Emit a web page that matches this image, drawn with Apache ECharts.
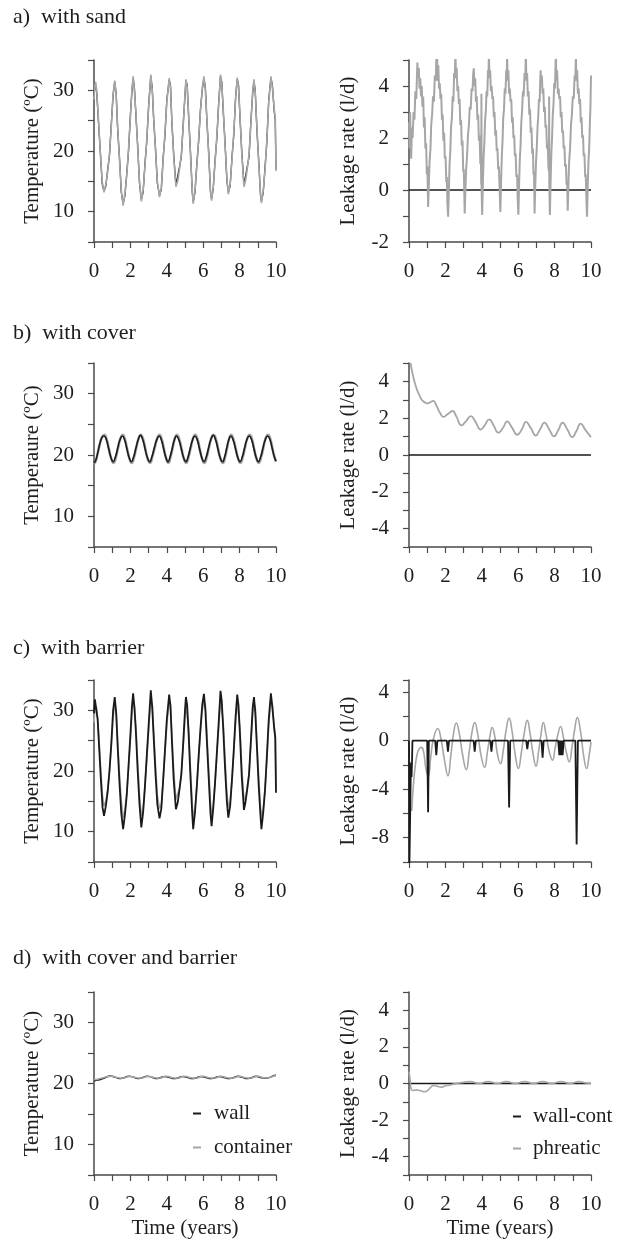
<!DOCTYPE html>
<html><head><meta charset="utf-8">
<script src="https://cdn.jsdelivr.net/npm/echarts@6/dist/echarts.min.js"></script>
<style>html,body{margin:0;padding:0;background:#fff}#c{width:621px;height:1243px}</style>
</head><body><div id="c"></div>
<script>
// ---------- text / ticks ----------
const panelTitles = ['a)  with sand', 'b)  with cover', 'c)  with barrier', 'd)  with cover and barrier'];
const tempAxisNames = ['Temperature (ºC)', 'Temperaure (ºC)', 'Temperature (ºC)', 'Temperature (ºC)'];
const leakAxisName = 'Leakage rate (l/d)';
const timeAxisName = 'Time (years)';
const xTickLabels = [0, 2, 4, 6, 8, 10];
const tempTickLabels = [10, 20, 30];
const leakTickLabelsA = [-2, 0, 2, 4];
const leakTickLabelsB = [-4, -2, 0, 2, 4];
const leakTickLabelsC = [-8, -4, 0, 4];
const leakTickLabelsD = [-4, -2, 0, 2, 4];
const legendLeft = ['wall', 'container'];
const legendRight = ['wall-cont', 'phreatic'];

// ---------- a) with sand ----------
const aTempWall = [[0.00,29.0],[0.05,31.3],[0.09,31.2],[0.15,29.6],[0.25,24.6],[0.35,19.8],[0.45,14.6],[0.55,13.4],[0.65,14.2],[0.75,16.9],[0.85,19.2],[0.95,24.4],[1.05,29.2],[1.14,31.4],[1.22,29.4],[1.30,23.6],[1.40,18.9],[1.50,13.2],[1.60,11.3],[1.70,12.7],[1.80,16.3],[1.90,20.1],[2.00,25.9],[2.08,29.7],[2.15,32.0],[2.22,30.4],[2.30,26.1],[2.40,20.9],[2.50,14.7],[2.60,12.0],[2.70,13.2],[2.80,17.9],[2.90,21.6],[3.00,27.4],[3.12,32.3],[3.20,30.4],[3.28,25.1],[3.38,20.4],[3.48,14.7],[3.60,12.7],[3.70,13.7],[3.80,18.9],[3.90,22.6],[4.00,28.4],[4.13,31.7],[4.20,30.9],[4.28,24.6],[4.38,19.4],[4.50,14.4],[4.60,14.7],[4.70,17.4],[4.80,19.1],[4.90,24.4],[5.00,29.1],[5.05,31.5],[5.12,30.9],[5.20,25.6],[5.30,19.9],[5.40,13.2],[5.45,11.6],[5.55,13.2],[5.65,17.9],[5.75,21.6],[5.85,26.9],[5.95,30.1],[6.04,32.0],[6.12,30.4],[6.20,25.1],[6.30,19.9],[6.40,13.2],[6.46,12.1],[6.55,13.7],[6.65,18.4],[6.75,22.1],[6.85,27.9],[6.95,32.3],[7.02,31.4],[7.10,26.6],[7.20,21.4],[7.30,15.2],[7.38,13.2],[7.48,14.2],[7.58,18.9],[7.68,22.6],[7.78,28.9],[7.87,31.8],[7.94,30.9],[8.02,25.6],[8.12,19.9],[8.24,14.4],[8.32,14.7],[8.42,17.4],[8.52,19.1],[8.62,24.9],[8.72,29.6],[8.79,31.5],[8.86,29.9],[8.95,23.6],[9.05,18.4],[9.15,12.7],[9.20,11.7],[9.30,13.2],[9.40,17.4],[9.50,21.6],[9.60,28.4],[9.72,32.0],[9.80,30.9],[9.90,26.6],[9.96,25.1],[10.00,17.0]];
const aTempCont = [[0.00,28.5],[0.05,31.0],[0.09,31.4],[0.15,30.0],[0.25,25.0],[0.35,19.5],[0.45,15.0],[0.55,13.2],[0.65,14.5],[0.75,16.5],[0.85,19.5],[0.95,24.0],[1.05,29.5],[1.14,31.6],[1.22,29.0],[1.30,24.0],[1.40,18.5],[1.50,13.5],[1.60,11.0],[1.70,13.0],[1.80,16.0],[1.90,20.5],[2.00,25.5],[2.08,30.0],[2.15,32.3],[2.22,30.0],[2.30,26.5],[2.40,20.5],[2.50,15.0],[2.60,11.7],[2.70,13.5],[2.80,17.5],[2.90,22.0],[3.00,27.0],[3.12,32.6],[3.20,30.0],[3.28,25.5],[3.38,20.0],[3.48,15.0],[3.60,12.4],[3.70,14.0],[3.80,18.5],[3.90,23.0],[4.00,28.0],[4.13,32.0],[4.20,30.5],[4.28,25.0],[4.38,19.0],[4.50,14.1],[4.60,15.0],[4.70,17.0],[4.80,19.5],[4.90,24.0],[5.00,29.5],[5.05,31.8],[5.12,30.5],[5.20,26.0],[5.30,19.5],[5.40,13.5],[5.45,11.3],[5.55,13.5],[5.65,17.5],[5.75,22.0],[5.85,26.5],[5.95,30.5],[6.04,32.3],[6.12,30.0],[6.20,25.5],[6.30,19.5],[6.40,13.5],[6.46,11.8],[6.55,14.0],[6.65,18.0],[6.75,22.5],[6.85,27.5],[6.95,32.6],[7.02,31.0],[7.10,27.0],[7.20,21.0],[7.30,15.5],[7.38,12.9],[7.48,14.5],[7.58,18.5],[7.68,23.0],[7.78,28.5],[7.87,32.1],[7.94,30.5],[8.02,26.0],[8.12,19.5],[8.24,14.1],[8.32,15.0],[8.42,17.0],[8.52,19.5],[8.62,24.5],[8.72,30.0],[8.79,31.8],[8.86,29.5],[8.95,24.0],[9.05,18.0],[9.15,13.0],[9.20,11.4],[9.30,13.5],[9.40,17.0],[9.50,22.0],[9.60,28.0],[9.72,32.3],[9.80,30.5],[9.90,27.0],[9.96,25.5],[10.00,16.7]];
const aLeakWall = [[0,0],[10,0]];
const aLeakPhreatic = [[0.00,2.6],[0.03,1.6],[0.06,3.0],[0.09,1.9],[0.12,1.2],[0.16,2.4],[0.20,2.0],[0.25,3.0],[0.30,2.7],[0.35,3.8],[0.40,3.5],[0.46,4.9],[0.50,4.3],[0.54,4.7],[0.58,3.9],[0.62,4.3],[0.66,3.6],[0.70,4.0],[0.74,3.2],[0.78,3.6],[0.82,2.4],[0.86,2.8],[0.90,1.6],[0.94,1.8],[0.98,0.6],[1.01,0.9],[1.05,-0.65],
[1.09,0.2],[1.13,1.1],[1.18,1.6],[1.22,2.5],[1.27,2.9],[1.32,3.6],[1.37,3.4],[1.42,4.4],[1.47,4.2],[1.50,5.0],[1.54,5.3],
[1.57,4.2],[1.61,4.8],[1.65,3.9],[1.69,4.1],[1.73,3.5],[1.77,3.7],[1.81,2.7],[1.85,2.9],[1.89,1.9],[1.93,2.2],[1.97,1.2],[2.01,1.3],[2.05,0.3],[2.08,0.5],[2.11,-0.5],[2.15,-1.03],
[2.19,0.0],[2.23,1.0],[2.27,1.5],[2.31,2.4],[2.36,2.8],[2.40,3.6],[2.44,3.4],[2.48,4.5],[2.52,4.3],[2.55,5.35],
[2.58,4.3],[2.62,4.7],[2.66,3.8],[2.70,4.0],[2.74,3.3],[2.78,3.5],[2.82,2.5],[2.86,2.7],[2.90,1.7],[2.94,1.9],[2.98,0.7],[3.01,0.8],[3.04,-0.2],[3.06,-0.9],
[3.10,0.0],[3.14,0.8],[3.19,1.3],[3.24,2.1],[3.29,2.5],[3.34,3.2],[3.39,3.1],[3.44,3.9],[3.49,3.8],[3.53,4.5],[3.56,4.68],
[3.60,4.0],[3.64,4.3],[3.68,3.4],[3.72,3.6],[3.76,2.7],[3.80,2.9],[3.84,1.9],[3.88,2.1],[3.92,1.0],[3.95,1.2],[3.97,0.2],[3.98,3.7],[3.99,0.0],[4.02,-0.96],
[4.06,0.3],[4.10,1.3],[4.14,1.8],[4.18,2.7],[4.22,3.0],[4.26,3.8],[4.30,3.6],[4.34,4.6],[4.37,4.4],[4.39,5.35],
[4.42,4.3],[4.46,4.6],[4.50,3.8],[4.54,4.0],[4.58,3.5],[4.62,3.6],[4.66,2.8],[4.70,3.0],[4.74,2.1],[4.78,2.3],[4.82,1.5],[4.86,1.6],[4.90,0.8],[4.94,0.9],[4.98,0.0],[5.02,-0.85],
[5.06,0.3],[5.10,1.3],[5.14,1.9],[5.18,2.8],[5.22,3.1],[5.26,3.9],[5.30,3.7],[5.34,4.6],[5.37,4.4],[5.39,5.25],
[5.42,4.2],[5.46,4.6],[5.50,3.7],[5.54,3.9],[5.58,3.4],[5.62,3.5],[5.66,2.6],[5.70,2.8],[5.74,2.0],[5.78,2.1],[5.82,1.3],[5.86,1.4],[5.90,0.5],[5.94,0.6],[5.97,-0.3],[6.01,-0.95],
[6.05,0.2],[6.09,1.2],[6.13,1.7],[6.17,2.6],[6.21,3.0],[6.26,3.8],[6.30,3.6],[6.35,4.5],[6.39,4.3],[6.42,5.3],
[6.45,4.2],[6.49,4.5],[6.53,3.6],[6.57,3.8],[6.61,2.9],[6.65,3.1],[6.69,2.2],[6.73,2.4],[6.77,1.4],[6.81,1.6],[6.84,0.6],[6.87,0.7],[6.90,-0.9],
[6.94,0.2],[6.98,1.1],[7.02,1.6],[7.06,2.4],[7.10,2.8],[7.14,3.5],[7.18,3.4],[7.21,4.2],[7.23,4.6],
[7.26,4.2],[7.30,4.4],[7.34,3.7],[7.38,3.9],[7.42,3.0],[7.46,3.2],[7.50,2.4],[7.54,2.5],[7.58,1.6],[7.62,1.8],[7.66,0.9],[7.69,0.7],[7.70,3.6],[7.71,0.2],[7.74,-0.96],
[7.78,0.3],[7.82,1.4],[7.86,2.0],[7.90,2.9],[7.94,3.3],[7.98,4.1],[8.02,3.9],[8.05,4.8],[8.07,5.35],
[8.10,4.2],[8.14,4.6],[8.18,3.7],[8.22,3.9],[8.26,3.5],[8.30,3.6],[8.34,2.8],[8.38,3.0],[8.42,2.2],[8.46,2.3],[8.50,1.6],[8.54,1.7],[8.58,0.9],[8.62,1.0],[8.66,0.2],[8.69,0.3],[8.72,-0.8],
[8.76,0.2],[8.80,1.1],[8.85,1.6],[8.90,2.5],[8.95,2.9],[9.00,3.6],[9.05,3.5],[9.10,4.4],[9.14,4.3],[9.17,5.15],
[9.20,4.2],[9.24,4.6],[9.28,3.7],[9.32,3.9],[9.36,3.3],[9.40,3.5],[9.44,2.6],[9.48,2.8],[9.52,2.0],[9.56,2.1],[9.60,1.3],[9.64,1.4],[9.68,0.5],[9.71,0.6],[9.75,-0.4],[9.78,-1.03],
[9.82,0.1],[9.86,1.1],[9.90,1.6],[9.94,2.6],[9.97,3.2],[10.00,4.4]];

// ---------- b) with cover ----------
const bTempWall = [[0.00,18.7],[0.10,19.2],[0.20,20.3],[0.31,21.7],[0.43,22.8],[0.55,23.1],[0.68,22.5],[0.80,21.1],[0.93,19.6],
[1.05,18.9],[1.18,19.7],[1.30,21.1],[1.43,22.5],[1.56,23.1],[1.68,22.5],[1.80,21.1],[1.93,19.6],
[2.05,18.9],[2.18,19.7],[2.30,21.1],[2.43,22.5],[2.55,23.2],[2.68,22.5],[2.80,21.1],[2.93,19.6],
[3.06,18.9],[3.18,19.7],[3.31,21.1],[3.45,22.5],[3.58,23.1],[3.70,22.5],[3.82,21.1],[3.95,19.6],
[4.07,18.9],[4.18,19.7],[4.30,21.1],[4.42,22.5],[4.53,23.1],[4.66,22.5],[4.79,21.1],[4.92,19.6],
[5.05,18.9],[5.17,19.7],[5.29,21.1],[5.42,22.5],[5.54,23.1],[5.67,22.5],[5.79,21.1],[5.92,19.6],
[6.04,18.9],[6.17,19.7],[6.29,21.1],[6.42,22.5],[6.55,23.2],[6.68,22.5],[6.80,21.1],[6.93,19.6],
[7.06,18.9],[7.18,19.7],[7.29,21.1],[7.41,22.5],[7.52,23.1],[7.64,22.5],[7.77,21.1],[7.90,19.6],
[8.02,18.9],[8.15,19.7],[8.27,21.1],[8.40,22.5],[8.53,23.1],[8.66,22.5],[8.78,21.1],[8.91,19.6],
[9.03,18.9],[9.16,19.7],[9.28,21.1],[9.41,22.5],[9.54,23.1],[9.67,22.5],[9.79,21.1],[9.90,19.8],[10.00,19.0]];
const bTempCont = [[0.00,18.5],[0.10,19.0],[0.20,20.2],[0.32,21.8],[0.45,23.0],[0.57,23.3],[0.70,22.5],[0.82,21.0],[0.95,19.4],
[1.07,18.7],[1.20,19.6],[1.32,21.1],[1.45,22.7],[1.58,23.3],[1.70,22.6],[1.82,21.0],[1.95,19.4],
[2.07,18.7],[2.20,19.6],[2.32,21.1],[2.45,22.7],[2.57,23.3],[2.70,22.6],[2.82,21.0],[2.95,19.4],
[3.08,18.7],[3.20,19.6],[3.33,21.1],[3.47,22.7],[3.60,23.3],[3.72,22.6],[3.84,21.0],[3.97,19.4],
[4.09,18.7],[4.20,19.6],[4.32,21.1],[4.44,22.7],[4.55,23.3],[4.68,22.6],[4.81,21.0],[4.94,19.4],
[5.07,18.7],[5.19,19.6],[5.31,21.1],[5.44,22.7],[5.56,23.3],[5.69,22.6],[5.81,21.0],[5.94,19.4],
[6.06,18.7],[6.19,19.6],[6.31,21.1],[6.44,22.7],[6.57,23.3],[6.70,22.6],[6.82,21.0],[6.95,19.4],
[7.08,18.7],[7.20,19.6],[7.31,21.1],[7.43,22.7],[7.54,23.3],[7.66,22.6],[7.79,21.0],[7.92,19.4],
[8.04,18.7],[8.17,19.6],[8.29,21.1],[8.42,22.7],[8.55,23.3],[8.68,22.6],[8.80,21.0],[8.93,19.4],
[9.05,18.7],[9.18,19.6],[9.30,21.1],[9.43,22.7],[9.56,23.3],[9.69,22.6],[9.81,21.0],[9.92,19.6],[10.00,18.9]];
const bLeakWall = [[0,0],[10,0]];
const bLeakPhreatic = [[0.08,5.0],[0.20,4.4],[0.30,4.0],[0.42,3.6],[0.55,3.3],[0.70,3.0],[0.88,2.85],[1.00,2.8],[1.12,2.85],[1.34,2.94],[1.50,2.7],[1.70,2.3],[1.89,2.07],[2.10,2.2],[2.40,2.39],[2.60,2.1],[2.89,1.61],[3.10,1.8],[3.40,2.11],[3.65,1.8],[3.94,1.38],[4.15,1.6],[4.41,1.94],[4.65,1.6],[4.91,1.21],[5.15,1.45],[5.40,1.83],[5.65,1.5],[5.95,1.10],[6.20,1.4],[6.43,1.80],[6.70,1.45],[6.96,1.06],[7.20,1.38],[7.44,1.76],[7.70,1.4],[7.97,1.01],[8.20,1.35],[8.44,1.76],[8.70,1.38],[8.97,0.97],[9.20,1.3],[9.43,1.71],[9.70,1.35],[10.00,0.97]];

// ---------- c) with barrier ----------
const cTempWall = [[0.00,29.5],[0.05,31.8],[0.13,31.6],[0.20,28.5],[0.28,24.0],[0.38,18.5],[0.47,14.0],[0.55,12.6],[0.65,14.2],[0.75,16.5],[0.85,20.0],[0.95,24.5],[1.05,30.0],[1.14,32.2],[1.22,29.5],[1.30,24.0],[1.40,18.0],[1.50,13.0],[1.60,10.4],[1.70,12.8],[1.80,16.0],[1.90,21.0],[2.00,26.0],[2.08,30.5],[2.15,32.8],[2.22,30.5],[2.30,26.5],[2.40,20.0],[2.50,14.5],[2.60,10.7],[2.70,13.2],[2.80,17.5],[2.90,22.5],[3.00,27.5],[3.12,33.3],[3.20,30.5],[3.28,25.5],[3.38,19.5],[3.48,14.5],[3.60,12.2],[3.70,13.8],[3.80,18.5],[3.90,23.5],[4.00,28.5],[4.13,32.6],[4.20,30.8],[4.28,25.0],[4.38,18.5],[4.50,13.7],[4.60,14.8],[4.70,17.0],[4.80,19.5],[4.90,24.5],[5.00,30.0],[5.05,32.2],[5.12,30.8],[5.20,26.0],[5.30,19.0],[5.40,12.8],[5.45,10.4],[5.55,13.2],[5.65,17.5],[5.75,22.5],[5.85,27.0],[5.95,31.0],[6.04,32.7],[6.12,30.0],[6.20,25.0],[6.30,19.0],[6.40,13.0],[6.46,10.9],[6.55,13.8],[6.65,18.0],[6.75,23.0],[6.85,28.0],[6.95,33.2],[7.02,31.5],[7.10,27.0],[7.20,20.5],[7.30,15.0],[7.38,12.3],[7.48,14.2],[7.58,18.5],[7.68,23.5],[7.78,29.0],[7.87,32.6],[7.94,30.8],[8.02,26.0],[8.12,19.0],[8.24,13.6],[8.32,14.8],[8.42,17.0],[8.52,19.5],[8.62,25.0],[8.72,30.5],[8.79,32.2],[8.86,29.8],[8.95,24.0],[9.05,17.5],[9.15,12.5],[9.20,10.4],[9.30,13.2],[9.40,17.0],[9.50,22.5],[9.60,28.5],[9.72,32.8],[9.80,30.5],[9.90,27.0],[9.96,25.5],[10.00,16.4]];
const cTempCont = [[0.00,28.0],[0.05,30.2],[0.13,30.6],[0.20,28.8],[0.28,25.0],[0.38,19.8],[0.47,15.8],[0.55,14.2],[0.65,15.0],[0.75,17.0],[0.85,20.0],[0.95,24.0],[1.05,28.8],[1.14,31.0],[1.22,29.8],[1.30,25.0],[1.40,19.5],[1.50,15.0],[1.60,12.3],[1.70,13.5],[1.80,16.5],[1.90,20.5],[2.00,25.0],[2.08,29.0],[2.15,31.5],[2.22,30.8],[2.30,27.5],[2.40,21.5],[2.50,16.0],[2.60,12.6],[2.70,13.8],[2.80,17.5],[2.90,22.0],[3.00,26.5],[3.12,31.8],[3.20,31.0],[3.28,26.5],[3.38,21.0],[3.48,16.0],[3.60,13.8],[3.70,14.5],[3.80,18.5],[3.90,23.0],[4.00,27.5],[4.13,31.4],[4.20,31.0],[4.28,26.0],[4.38,20.0],[4.50,15.3],[4.60,15.5],[4.70,17.2],[4.80,19.5],[4.90,24.0],[5.00,28.8],[5.05,31.0],[5.12,31.0],[5.20,27.0],[5.30,20.5],[5.40,14.5],[5.45,12.4],[5.55,13.8],[5.65,17.5],[5.75,22.0],[5.85,26.5],[5.95,30.0],[6.04,31.6],[6.12,30.8],[6.20,26.5],[6.30,20.5],[6.40,14.8],[6.46,12.8],[6.55,14.2],[6.65,18.0],[6.75,22.5],[6.85,27.0],[6.95,31.8],[7.02,31.6],[7.10,28.0],[7.20,22.0],[7.30,16.5],[7.38,14.0],[7.48,15.0],[7.58,18.5],[7.68,23.0],[7.78,28.0],[7.87,31.4],[7.94,31.2],[8.02,27.0],[8.12,20.5],[8.24,15.2],[8.32,15.6],[8.42,17.3],[8.52,19.5],[8.62,24.5],[8.72,29.3],[8.79,31.0],[8.86,30.5],[8.95,25.0],[9.05,19.0],[9.15,14.0],[9.20,12.5],[9.30,13.8],[9.40,17.2],[9.50,22.0],[9.60,27.5],[9.72,31.6],[9.80,31.0],[9.90,27.5],[9.96,26.0],[10.00,17.2]];
const cLeakWall = [[0.00,0],[0.02,-10.5],[0.07,-10.5],[0.09,-3.5],[0.11,-1.8],[0.14,-3.0],[0.17,-1.5],[0.19,0],[1.00,0],[1.05,-5.9],[1.09,0],[1.44,0],[1.50,-1.2],[1.56,0],[2.08,0],[2.14,-0.9],[2.20,0],[3.55,0],[3.61,-0.9],[3.67,0],[4.47,0],[4.53,-0.9],[4.59,0],[5.44,0],[5.50,-5.5],[5.56,0],[6.44,0],[6.50,-0.7],[6.56,0],[7.28,0],[7.34,-1.4],[7.40,0],[8.20,0],[8.26,-1.2],[8.30,0],[8.34,-1.2],[8.40,0],[8.44,-1.2],[8.50,0],[9.14,0],[9.21,-8.55],[9.28,0],[10.00,0]];
const cLeakPhreatic = [[0.15,-5.8],[0.25,-3.5],[0.35,-2.0],[0.45,-1.1],[0.55,-0.7],[0.68,-0.55],[0.80,-0.9],[0.94,-2.4],[1.06,-2.9],[1.20,-1.3],[1.35,0.2],[1.58,1.0],[1.75,0.2],[1.95,-1.6],[2.14,-2.9],[2.30,-1.2],[2.45,0.6],[2.60,1.45],[2.75,0.7],[2.95,-1.2],[3.15,-2.4],[3.30,-1.0],[3.45,0.6],[3.61,1.5],[3.78,0.5],[3.97,-1.3],[4.16,-2.2],[4.30,-1.0],[4.45,0.4],[4.57,1.08],[4.72,0.3],[4.87,-1.2],[5.03,-1.9],[5.18,-0.8],[5.33,0.8],[5.50,1.86],[5.66,0.8],[5.84,-1.2],[6.01,-2.3],[6.17,-1.0],[6.33,0.6],[6.50,1.67],[6.65,0.6],[6.82,-1.1],[6.98,-2.1],[7.12,-0.9],[7.25,0.5],[7.38,1.5],[7.53,0.5],[7.72,-1.0],[7.89,-1.6],[8.03,-0.6],[8.18,0.5],[8.33,1.17],[8.48,0.3],[8.65,-1.0],[8.81,-1.75],[8.95,-0.6],[9.10,0.9],[9.25,1.9],[9.42,0.8],[9.60,-1.3],[9.76,-2.3],[9.90,-1.2],[10.00,-0.1]];

// ---------- d) with cover and barrier ----------
const dTempWall = [[0.00,20.4],[0.15,20.55],[0.35,20.65],[0.60,20.95],[0.90,21.25],[1.15,21.05],[1.40,20.8],[1.65,20.95],[1.90,21.2],[2.15,21.05],[2.40,20.8],[2.65,20.95],[2.90,21.2],[3.15,21.05],[3.40,20.8],[3.65,20.95],[3.90,21.15],[4.15,21.0],[4.40,20.8],[4.65,20.95],[4.90,21.15],[5.15,21.0],[5.40,20.8],[5.65,20.95],[5.90,21.15],[6.15,21.0],[6.40,20.8],[6.65,20.95],[6.90,21.15],[7.15,21.0],[7.40,20.8],[7.65,20.95],[7.90,21.2],[8.15,21.0],[8.40,20.8],[8.65,20.95],[8.90,21.2],[9.15,21.0],[9.40,20.85],[9.65,21.0],[9.90,21.3],[10.00,21.35]];
const dTempCont = [[0.00,20.6],[0.20,20.7],[0.45,20.9],[0.70,21.1],[1.00,21.2],[1.25,21.0],[1.50,20.85],[1.75,21.0],[2.00,21.2],[2.25,21.0],[2.50,20.85],[2.75,21.0],[3.00,21.2],[3.25,21.0],[3.50,20.85],[3.75,21.0],[4.00,21.2],[4.25,21.0],[4.50,20.85],[4.75,21.0],[5.00,21.2],[5.25,21.0],[5.50,20.85],[5.75,21.0],[6.00,21.2],[6.25,21.0],[6.50,20.85],[6.75,21.0],[7.00,21.2],[7.25,21.0],[7.50,20.85],[7.75,21.0],[8.00,21.2],[8.25,21.0],[8.50,20.85],[8.75,21.0],[9.00,21.2],[9.25,21.0],[9.50,20.9],[9.75,21.1],[10.00,21.3]];
const dLeakWall = [[0,0],[10,0]];
const dLeakPhreatic = [[0.00,0.65],[0.05,0.3],[0.12,-0.3],[0.20,-0.38],[0.40,-0.35],[0.60,-0.38],[0.85,-0.45],[1.00,-0.4],[1.20,-0.2],[1.35,-0.1],[1.55,-0.15],[1.80,-0.2],[2.00,-0.12],[2.20,-0.1],[2.50,-0.02],[2.90,0.05],[3.35,0.1],[3.85,0.0],[4.35,0.1],[4.85,0.0],[5.35,0.1],[5.85,0.0],[6.35,0.1],[6.85,0.0],[7.35,0.1],[7.85,0.0],[8.35,0.1],[8.85,0.0],[9.35,0.1],[9.85,0.02],[10.00,0.03]];

// ---------- build ----------
const FONT = 'Liberation Serif';
const TXT = '#1e1e1e';
const BLACK = '#1a1a1a';
const GRAY = '#a6a6a6';
const AX = '#4a4a4a';

const rowsTop = [60, 363, 680, 992];
const rowsH = [182, 184, 182, 183];
const leftX = 94, rightX = 409, plotW = 182;

const grids = [], xAxes = [], yAxes = [], series = [];

function fmt(list) { return v => (list.indexOf(Math.round(v * 1000) / 1000) >= 0 ? String(v) : ''); }

function addPanel(idx, left, top, height, ymin, ymax, yint, ylabels, yname, nameGap, showTimeName) {
  grids.push({ left: left, top: top, width: plotW, height: height, containLabel: false, outerBoundsMode: 'none' });
  xAxes.push({
    gridIndex: idx, type: 'value', min: 0, max: 10, interval: 1,
    axisLine: { show: true, onZero: false, lineStyle: { color: AX, width: 1.5 } },
    axisTick: { show: true, length: 6, lineStyle: { color: AX, width: 1.2 } },
    splitLine: { show: false },
    axisLabel: { formatter: fmt(xTickLabels), margin: 19, color: TXT, fontFamily: FONT, fontSize: 21, hideOverlap: false },
    name: showTimeName ? timeAxisName : '', nameLocation: 'middle', nameGap: 43, nameMoveOverlap: false,
    nameTextStyle: { color: TXT, fontFamily: FONT, fontSize: 21 }
  });
  yAxes.push({
    gridIndex: idx, type: 'value', min: ymin, max: ymax, interval: yint,
    axisLine: { show: true, onZero: false, lineStyle: { color: AX, width: 1.5 } },
    axisTick: { show: true, length: 6, lineStyle: { color: AX, width: 1.2 } },
    splitLine: { show: false },
    axisLabel: { formatter: fmt(ylabels), margin: 20, color: TXT, fontFamily: FONT, fontSize: 21, hideOverlap: false },
    name: yname, nameLocation: 'middle', nameGap: nameGap, nameRotate: 90, nameMoveOverlap: false,
    nameTextStyle: { color: TXT, fontFamily: FONT, fontSize: 21 }
  });
}

function line(idx, name, data, color, width, smooth) {
  series.push({
    type: 'line', name: name, xAxisIndex: idx, yAxisIndex: idx, data: data,
    symbol: 'none', showSymbol: false, smooth: smooth || false,
    lineStyle: { color: color, width: width }, itemStyle: { color: color },
    emphasis: { disabled: true }, silent: true
  });
}

// row a
addPanel(0, leftX, rowsTop[0], rowsH[0], 5, 35, 5, tempTickLabels, tempAxisNames[0], 51, false);
addPanel(1, rightX, rowsTop[0], rowsH[0], -2, 5, 1, leakTickLabelsA, leakAxisName, 50, false);
// row b
addPanel(2, leftX, rowsTop[1], rowsH[1], 5, 35, 5, tempTickLabels, tempAxisNames[1], 51, false);
addPanel(3, rightX, rowsTop[1], rowsH[1], -5, 5, 1, leakTickLabelsB, leakAxisName, 50, false);
// row c
addPanel(4, leftX, rowsTop[2], rowsH[2], 5, 35, 5, tempTickLabels, tempAxisNames[2], 51, false);
addPanel(5, rightX, rowsTop[2], rowsH[2], -10, 5, 2, leakTickLabelsC, leakAxisName, 50, false);
// row d
addPanel(6, leftX, rowsTop[3], rowsH[3], 5, 35, 5, tempTickLabels, tempAxisNames[3], 51, true);
addPanel(7, rightX, rowsTop[3], rowsH[3], -5, 5, 1, leakTickLabelsD, leakAxisName, 50, true);

line(0, 'wall', aTempWall, BLACK, 1.3);
line(0, 'container', aTempCont, GRAY, 1.6);
line(1, 'wall-cont', aLeakWall, BLACK, 1.6);
line(1, 'phreatic', aLeakPhreatic, GRAY, 2);

line(2, 'container', bTempCont, GRAY, 2.6, true);
line(2, 'wall', bTempWall, BLACK, 1.6, true);
line(3, 'wall-cont', bLeakWall, BLACK, 1.6);
line(3, 'phreatic', bLeakPhreatic, GRAY, 1.8, true);

line(4, 'container', cTempCont, GRAY, 1.6);
line(4, 'wall', cTempWall, BLACK, 1.8);
line(5, 'phreatic', cLeakPhreatic, GRAY, 1.6, true);
line(5, 'wall-cont', cLeakWall, BLACK, 1.8);

line(6, 'wall', dTempWall, BLACK, 1.5, true);
line(6, 'container', dTempCont, GRAY, 1.5, true);
line(7, 'wall-cont', dLeakWall, BLACK, 1.6);
line(7, 'phreatic', dLeakPhreatic, GRAY, 1.6, true);

const titleTops = [6, 322, 637, 947];
const titles = panelTitles.map((t, i) => ({
  text: t, left: 13, top: titleTops[i], padding: [0, 0, 0, 0],
  textStyle: { color: TXT, fontFamily: FONT, fontSize: 22, fontWeight: 'normal' }
}));

const legendText = { color: TXT, fontFamily: FONT, fontSize: 21 };
const option = {
  animation: false,
  backgroundColor: '#ffffff',
  title: titles,
  legend: [
    { orient: 'vertical', left: 193, top: 1103, padding: 0, itemWidth: 8, itemHeight: 2, itemGap: 13, icon: 'rect', data: legendLeft, textStyle: Object.assign({ padding: [0, 0, 0, 8] }, legendText), selectedMode: false },
    { orient: 'vertical', left: 513, top: 1106, padding: 0, itemWidth: 8, itemHeight: 2, itemGap: 11, icon: 'rect', data: legendRight, textStyle: Object.assign({ padding: [0, 0, 0, 7] }, legendText), selectedMode: false }
  ],
  grid: grids,
  xAxis: xAxes,
  yAxis: yAxes,
  series: series
};

const chart = echarts.init(document.getElementById('c'), null, { renderer: 'canvas', width: 621, height: 1243 });
chart.setOption(option);
</script>
</body></html>
